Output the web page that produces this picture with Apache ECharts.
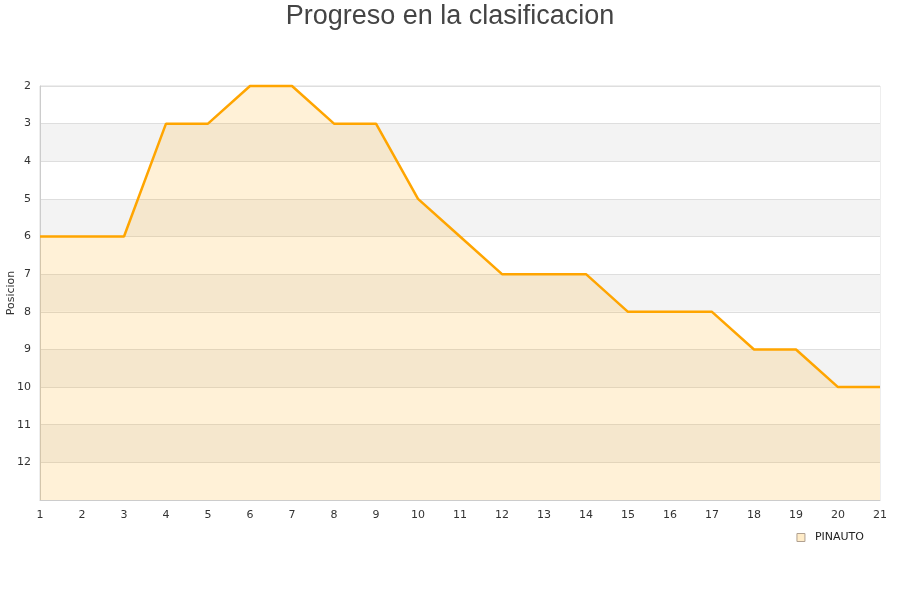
<!DOCTYPE html>
<html>
<head>
<meta charset="utf-8">
<script src="https://cdn.jsdelivr.net/npm/echarts@6/dist/echarts.min.js"></script>
<style>html,body{margin:0;padding:0;background:#fff}#c{width:900px;height:600px}</style>
</head>
<body>
<div id="c"></div>
<script>
var jornadas = [1,2,3,4,5,6,7,8,9,10,11,12,13,14,15,16,17,18,19,20,21];
var posiciones = [6,6,6,3,3,2,2,3,3,5,6,7,7,7,8,8,8,9,9,10,10];
var seriesName = 'PINAUTO';
var titleText = 'Progreso en la clasificacion';
var yName = 'Posicion';

var chart = echarts.init(document.getElementById('c'));
chart.setOption({
  backgroundColor: '#fff',
  animation: false,
  title: {
    text: titleText, left: 'center', top: -2,
    textStyle: { fontFamily: 'Liberation Sans', fontSize: 27, fontWeight: 'normal', color: '#444' }
  },
  legend: {
    data: [{ name: seriesName, icon: 'rect',
      itemStyle: { color: '#ffecc8', borderColor: '#b0a090', borderWidth: 1 } }],
    right: 31, top: 527, itemWidth: 8, itemHeight: 8, itemGap: 10,
    textStyle: { fontFamily: 'DejaVu Sans', fontSize: 11, color: '#222', padding: [0, 0, 0, 5] }
  },
  grid: { left: 40, right: 20, top: 86, bottom: 100, containLabel: false, outerBoundsMode: 'none',
    show: true, borderColor: '#ddd', borderWidth: 1 },
  xAxis: {
    type: 'value', min: 1, max: 21, interval: 1,
    axisLine: { show: true, lineStyle: { color: '#ccc' } },
    axisTick: { show: false },
    splitLine: { show: false },
    axisLabel: { fontFamily: 'DejaVu Sans', fontSize: 11, color: '#333', margin: 10 }
  },
  yAxis: {
    type: 'value', inverse: true, min: 2, max: 13, interval: 1,
    name: yName, nameLocation: 'middle', nameGap: 23, nameMoveOverlap: false,
    nameTextStyle: { fontFamily: 'DejaVu Sans', fontSize: 11, color: '#333' },
    axisLine: { show: true, lineStyle: { color: '#ccc' } },
    axisTick: { show: false },
    axisLabel: { fontFamily: 'DejaVu Sans', fontSize: 11, color: '#333', margin: 9,
      formatter: function (v) { return v === 13 ? '' : v; } },
    splitLine: { show: true, lineStyle: { color: '#dedede' } },
    splitArea: { show: true, areaStyle: { color: ['#ffffff', '#f3f3f3'] } }
  },
  series: [{
    name: seriesName, type: 'line',
    data: jornadas.map(function (j, i) { return [j, posiciones[i]]; }),
    showSymbol: false, symbol: 'none', clip: false,
    lineStyle: { color: '#ffa500', width: 2.5 },
    itemStyle: { color: '#ffa500' },
    areaStyle: { color: 'rgba(255,170,20,0.24)', origin: 'end' }
  }]
});
</script>
</body>
</html>
